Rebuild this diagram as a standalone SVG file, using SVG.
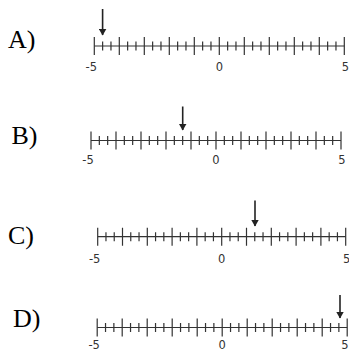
<svg xmlns="http://www.w3.org/2000/svg" width="349" height="350" viewBox="0 0 349 350">
<style>
.lbl{font-family:"Liberation Serif",serif;font-size:26px;fill:#000}
.num{font-family:"DejaVu Sans",sans-serif;font-size:11.5px;fill:#333;text-anchor:middle}
.ax{stroke:#333;stroke-width:1.2;fill:none}
.arr{stroke:#222;stroke-width:1.6;fill:none}
</style>
<defs>
<marker id="ah" viewBox="0 0 7 8" refX="6.5" refY="4" markerWidth="7" markerHeight="8" markerUnits="userSpaceOnUse" orient="auto">
<path d="M0,0 L7,4 L0,8 Z" fill="#222"/>
</marker>
<g id="axis" class="ax">
<line x1="0" y1="0" x2="250" y2="0"/>
<path d="M0,-9v18m8.333,-13.5v9m8.333,-9v9m8.334,-13.5v18m8.333,-13.5v9m8.333,-9v9m8.334,-13.5v18m8.333,-13.5v9m8.333,-9v9m8.334,-13.5v18m8.333,-13.5v9m8.333,-9v9m8.334,-13.5v18m8.333,-13.5v9m8.333,-9v9m8.334,-13.5v18m8.333,-13.5v9m8.333,-9v9m8.334,-13.5v18m8.333,-13.5v9m8.333,-9v9m8.334,-13.5v18m8.333,-13.5v9m8.333,-9v9m8.334,-13.5v18m8.333,-13.5v9m8.333,-9v9m8.334,-13.5v18m8.333,-13.5v9m8.333,-9v9m8.334,-13.5v18"/>
</g>
</defs>
<g id="lineA">
<text class="lbl" x="8" y="47.5">A)</text>
<use href="#axis" transform="translate(94.3,46)"/>
<text class="num" x="91.3" y="70.5">-5</text>
<text class="num" x="219.3" y="70.5">0</text>
<text class="num" x="345.3" y="70.5">5</text>
</g>
<g id="lineB">
<text class="lbl" x="11.5" y="143.5">B)</text>
<use href="#axis" transform="translate(91,140.5)"/>
<text class="num" x="88" y="164">-5</text>
<text class="num" x="216" y="164">0</text>
<text class="num" x="342" y="164">5</text>
</g>
<g id="lineC">
<text class="lbl" x="8" y="244">C)</text>
<use href="#axis" transform="translate(97.7,236.7) scale(0.992,1)"/>
<text class="num" x="94.7" y="263">-5</text>
<text class="num" x="221.7" y="263">0</text>
<text class="num" x="346.7" y="263">5</text>
</g>
<g id="lineD">
<text class="lbl" x="13" y="326.5">D)</text>
<use href="#axis" transform="translate(97.2,327.5)"/>
<text class="num" x="94.2" y="348.5">-5</text>
<text class="num" x="222.2" y="348.5">0</text>
<text class="num" x="345" y="348.5">5</text>
</g>
<g id="connectors">
<line class="arr" x1="102.6" y1="9" x2="102.6" y2="35" marker-end="url(#ah)"/>
<line class="arr" x1="182.7" y1="106.5" x2="182.7" y2="130" marker-end="url(#ah)"/>
<line class="arr" x1="255" y1="200.5" x2="255" y2="226" marker-end="url(#ah)"/>
<line class="arr" x1="340" y1="295" x2="340" y2="318" marker-end="url(#ah)"/>
</g>
</svg>
